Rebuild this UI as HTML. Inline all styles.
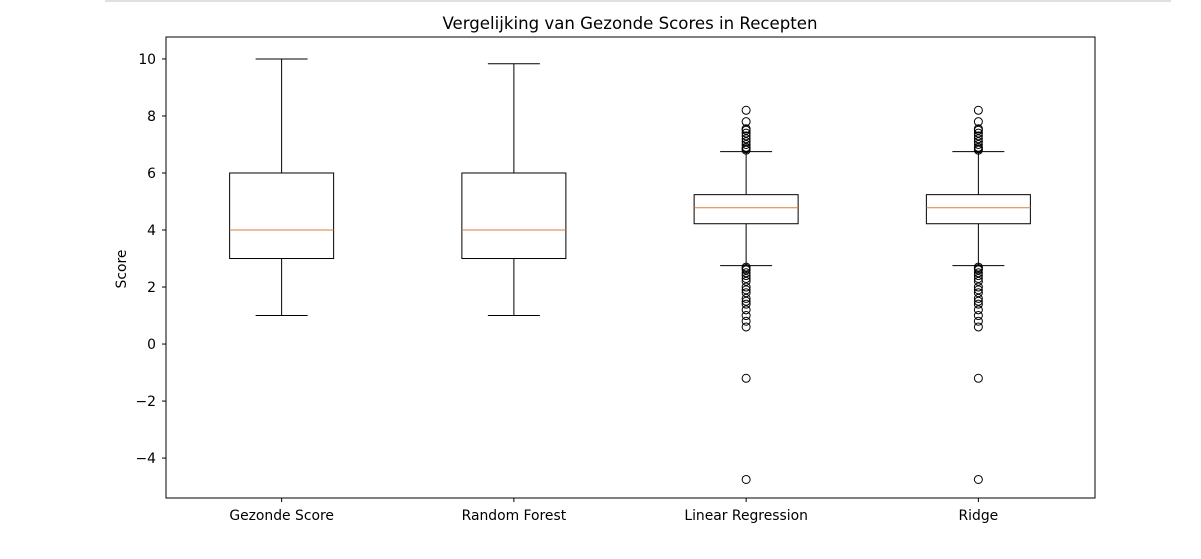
<!DOCTYPE html>
<html><head><meta charset="utf-8"><style>
body{margin:0;background:#fff;}
svg{display:block;font-family:"DejaVu Sans","Liberation Sans",sans-serif;}
</style></head><body>
<svg id="chart" width="1201" height="559">
<line x1="105" y1="1" x2="1171" y2="1" stroke="#e0e0e0" stroke-width="2"/>
<text x="630" y="29" font-size="16.6" text-anchor="middle">Vergelijking van Gezonde Scores in Recepten</text>
<text transform="translate(126,269) rotate(-90)" font-size="13.9" text-anchor="middle">Score</text>
<g id="plot"></g>
<rect x="166" y="37" width="929" height="461" fill="none" stroke="#000" stroke-width="1"/>
</svg>
<script>
const categories=["Gezonde Score","Random Forest","Linear Regression","Ridge"];
const whiskerLow=[1,1,2.75,2.75];
const q1=[3,3,4.22,4.22];
const medians=[4,4,4.78,4.78];
const q3=[6,6,5.24,5.24];
const whiskerHigh=[10,9.83,6.75,6.75];
const outliersLR=[6.8,6.85,6.9,7.0,7.1,7.2,7.3,7.4,7.5,7.55,7.8,8.2,2.7,2.65,2.6,2.5,2.4,2.3,2.2,2.0,1.9,1.8,1.6,1.5,1.4,1.2,1.0,0.8,0.6,-1.2,-4.75];
const outliersRidge=[6.8,6.85,6.9,7.0,7.1,7.2,7.3,7.4,7.5,7.55,7.8,8.2,2.7,2.65,2.6,2.5,2.4,2.3,2.2,2.0,1.9,1.8,1.6,1.5,1.4,1.2,1.0,0.8,0.6,-1.2,-4.75];
const outliers=[[],[],outliersLR,outliersRidge];
const yTicks=[-4,-2,0,2,4,6,8,10];
const yTickLabels=["\u22124","\u22122","0","2","4","6","8","10"];

const L=166,R=1095,T=37,B=498,yMin=-5.4,yMax=10.77;
const y=v=>B-(v-yMin)/(yMax-yMin)*(B-T);
const x=i=>L+(i+0.5)*(R-L)/categories.length;
const NS="http://www.w3.org/2000/svg";
const g=document.getElementById('plot');
function mk(tag,attrs){const e=document.createElementNS(NS,tag);for(const k in attrs)e.setAttribute(k,attrs[k]);g.appendChild(e);return e;}
yTicks.forEach((t,i)=>{
  const l=mk('line',{x1:L-4,x2:L,y1:y(t),y2:y(t),stroke:'#000'});
  
  
  const tx=mk('text',{x:L-10,y:y(t)+5,'font-size':13.9,'text-anchor':'end'});
  tx.textContent=yTickLabels[i];
  
  
});
const bw=104,cw=52;
categories.forEach((c,i)=>{
  const cx=x(i)-0.5;
  const tk=mk('line',{x1:cx,x2:cx,y1:B,y2:B+4,stroke:'#000'});
  
  
  const tl=mk('text',{x:cx,y:B+22,'font-size':13.9,'text-anchor':'middle'});
  tl.textContent=c;
  
  
  const w1=mk('line',{x1:cx,x2:cx,y1:y(q1[i]),y2:y(whiskerLow[i]),stroke:'#000'});
  
  
  const w2=mk('line',{x1:cx,x2:cx,y1:y(q3[i]),y2:y(whiskerHigh[i]),stroke:'#000'});
  
  
  [whiskerLow[i],whiskerHigh[i]].forEach(v=>{
    const cp=mk('line',{x1:cx-cw/2,x2:cx+cw/2,y1:y(v),y2:y(v),stroke:'#000'});
    
    
  });
  const bx=mk('rect',{x:cx-bw/2,y:y(q3[i]),width:bw,height:y(q1[i])-y(q3[i]),fill:'none',stroke:'#000'});
  
  
  const md=mk('line',{x1:cx-bw/2,x2:cx+bw/2,y1:y(medians[i]),y2:y(medians[i]),stroke:'#e07b39'});
  
  
  outliers[i].forEach(v=>{
    const o=mk('circle',{cx:cx,cy:y(v),r:4,fill:'none',stroke:'#000'});
    
    
  });
});
</script>
</body></html>
